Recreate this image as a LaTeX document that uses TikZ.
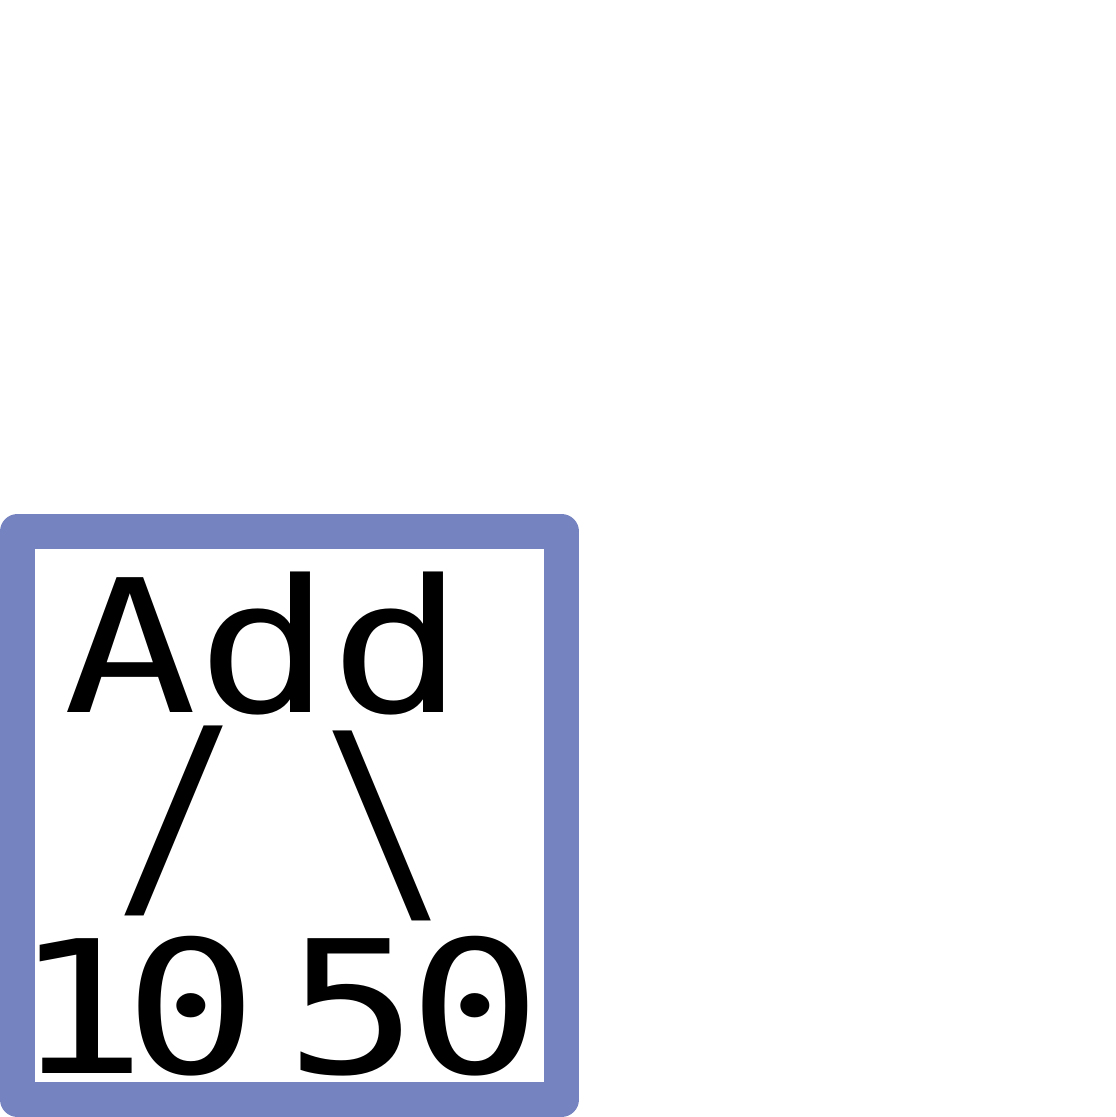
\documentclass[tikz,border=0pt]{standalone}
\usepackage{fontspec}
\newfontfamily\treefont[FakeStretch=1.2]{DejaVu Sans Mono}
\usetikzlibrary{positioning}
\definecolor{frameblue}{RGB}{117,131,193}
\newcommand{\tallglyph}[1]{\scalebox{0.93}[1.25]{#1}}
\tikzset{glyph/.style={font=\treefont\fontsize{185}{185}\selectfont, inner sep=0pt, anchor=base}}
\tikzset{branch/.style={glyph, anchor=center}}
\tikzset{frame/.style={draw=frameblue, line width=35pt, line join=round, fill=white}}

\begin{document}
\begin{tikzpicture}[x=1pt,y=1pt]
        \useasboundingbox (0,0) rectangle (1116,1117);
        \draw[frame] (17.5,17.5) rectangle (561.5,585.5);

        \node[glyph] (add) at (264,404) {Add};
        \node[branch] (lslash) at (177,296.5) {\tallglyph{/}};
        \node[branch] (rslash) at (385,291.5) {\tallglyph{\textbackslash}};

        \node[glyph] (ten) at (136,43) {1\kern-23pt0};
        \node[glyph] (fifty) at (413.5,43) {5\kern-10.5pt0};
    \end{tikzpicture}
\end{document}
